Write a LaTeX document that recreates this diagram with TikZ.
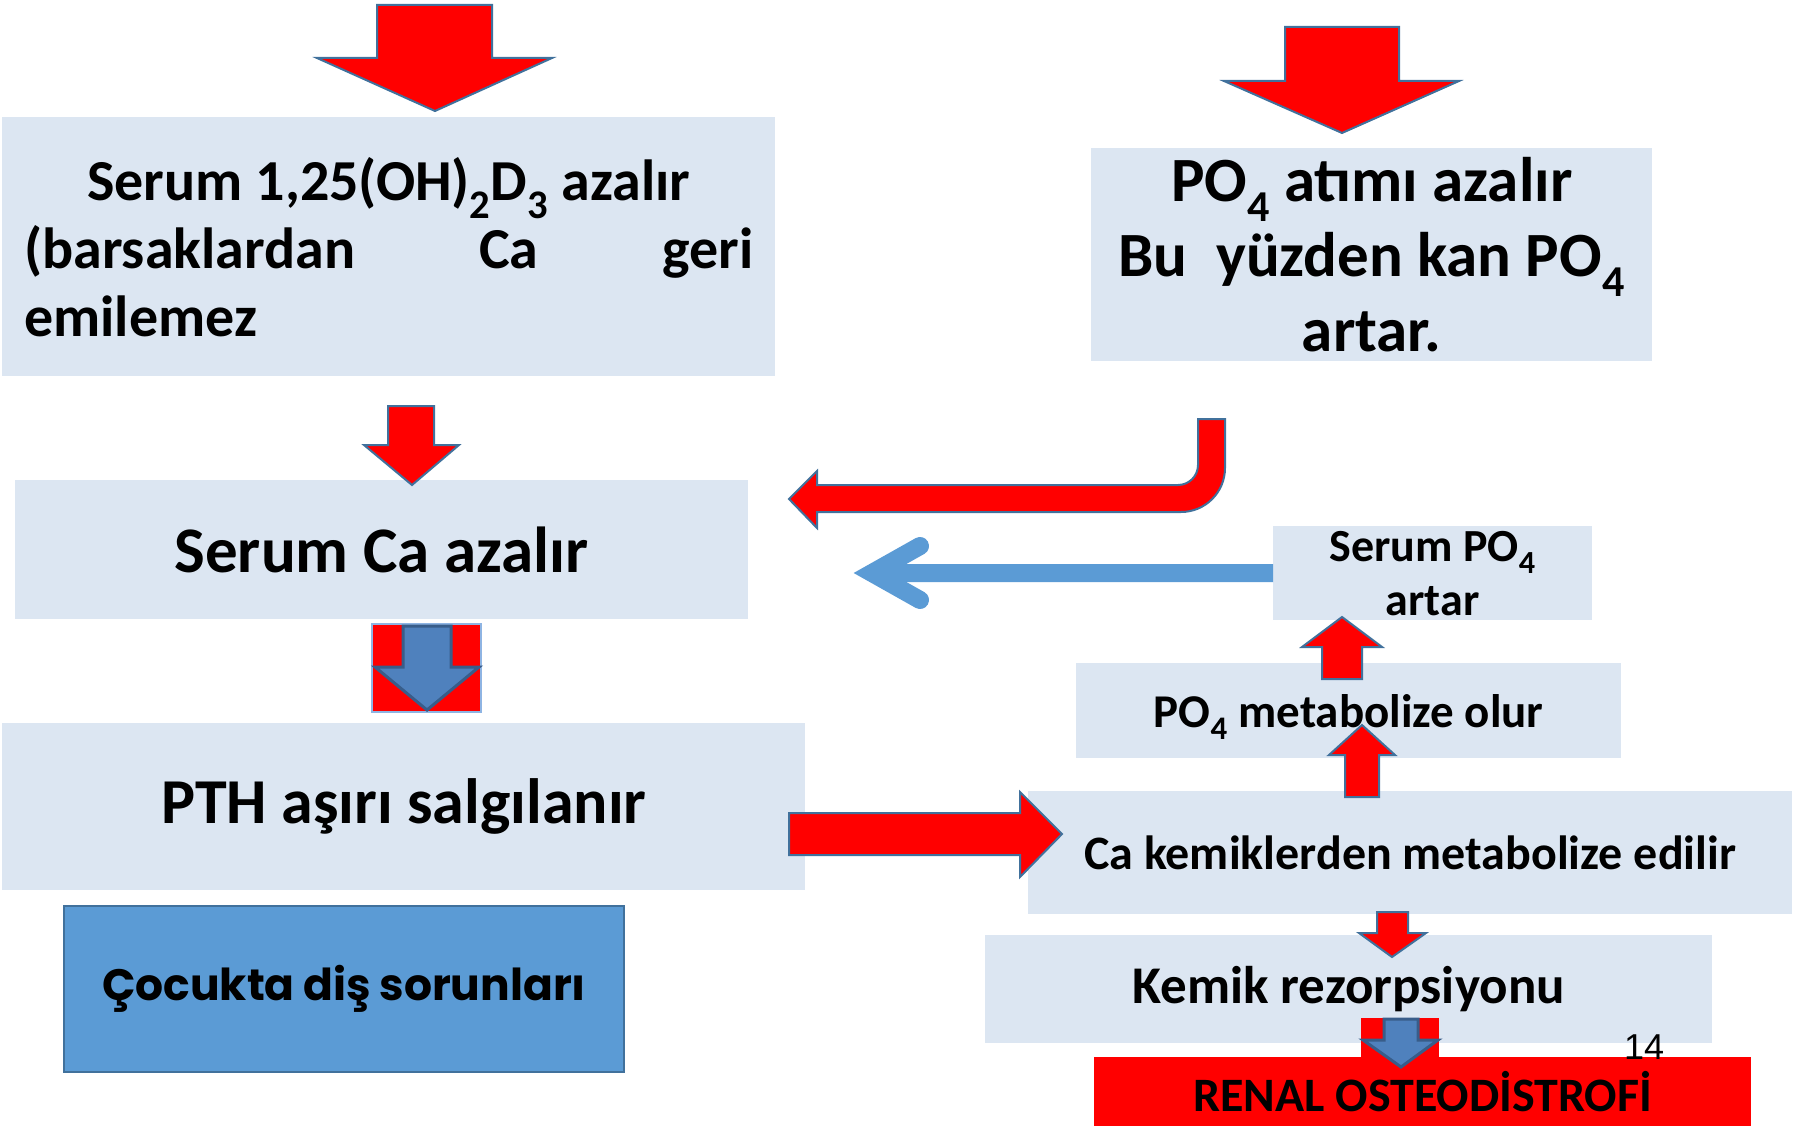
\documentclass[tikz,border=0pt]{standalone}
\usepackage{fontspec}
\setmainfont{Carlito}
\newfontfamily\comicfont{Poppins}
\newfontfamily\arialfont{Liberation Sans}
\usepackage{tikz}
\usetikzlibrary{arrows.meta}

\definecolor{paleblue}{RGB}{220,230,242}
\definecolor{edgeblue}{RGB}{65,113,156}
\definecolor{midblue}{RGB}{91,155,213}
\definecolor{steelblue}{RGB}{79,129,189}
\definecolor{darksteel}{RGB}{56,93,138}
\definecolor{sqedge}{RGB}{142,180,227}

\newcommand{\fsz}[2]{\fontsize{#1}{#2}\selectfont}

\begin{document}
\begin{tikzpicture}[x=1pt, y=-1pt,
  every node/.style={inner sep=0pt},
  box/.style={fill=paleblue, anchor=north west, align=center},
  redarr/.style={fill=red, draw=edgeblue, line width=2pt, line join=miter},
  bluedown/.style={fill=steelblue, draw=darksteel, line width=3pt, line join=miter},
  openarr/.style={draw=midblue, line width=18pt}]
\useasboundingbox (0,0) rectangle (1793,1126);
% Boxes, left column
\node[box, minimum width=773pt, minimum height=259pt, font=\bfseries\fsz{58}{68}] (vitd) at (2,117)
  {Serum 1,25(OH)\textsubscript{2}D\textsubscript{3} azalır\\
   \hbox to 729pt{(barsaklardan\hfil Ca\hfil geri}\\
   \hbox to 729pt{emilemez\hfil}};
\node[box, minimum width=733pt, minimum height=139pt, font=\bfseries\fsz{65}{78}] (serumca) at (15,480) {Serum Ca azalır};
\node[box, minimum width=803pt, minimum height=167pt, font=\bfseries\fsz{64}{76}] (pth) at (2,723) {PTH aşırı salgılanır};
\node[box, fill=midblue, draw=edgeblue, line width=2pt, minimum width=560pt, minimum height=166pt, font=\comicfont\bfseries\fsz{44}{52}] (dis) at (63,905)
  {\hbox to 484pt{Çocukta\hfil diş\hfil sorunları}};
% Boxes, right column
\node[box, minimum width=561pt, minimum height=213pt, font=\bfseries\fsz{63}{75}] (po4) at (1091,148)
  {PO\textsubscript{4} atımı azalır\\Bu\ \ yüzden kan PO\textsubscript{4}\\artar.};
\node[box, minimum width=319pt, minimum height=94pt, font=\bfseries\fsz{46}{54}] (spo4) at (1273,526) {Serum PO\textsubscript{4}\\artar};
\node[box, minimum width=545pt, minimum height=95pt, text height=33pt, text depth=0pt, font=\bfseries\fsz{47}{56}] (metab) at (1076,663) {PO\textsubscript{4} metabolize olur};
\node[box, minimum width=764pt, minimum height=123pt, font=\bfseries\fsz{48}{58}] (kemik) at (1028,791) {Ca kemiklerden metabolize edilir};
\node[box, minimum width=727pt, minimum height=108pt, font=\bfseries\fsz{53}{64}] (rez) at (985,935) {Kemik rezorpsiyonu};
\node[box, fill=red, minimum width=657pt, minimum height=69pt, font=\bfseries\fsz{48}{58}] (renal) at (1094,1057) {RENAL OSTEODİSTROFİ};
% Block arrows
\draw[redarr] (377,5) -- (492,5) -- (492,58) -- (552,58) -- (435,111) -- (317,58) -- (377,58) -- cycle; % into vitd
\draw[redarr] (1285,27) -- (1399,27) -- (1399,81) -- (1459,81) -- (1342,133) -- (1224,81) -- (1285,81) -- cycle; % into po4
\draw[redarr] (388,406) -- (434,406) -- (434,445) -- (459,445) -- (412,485) -- (364,445) -- (388,445) -- cycle; % vitd to serumca
\draw[fill=red, draw=sqedge, line width=1.5pt] (372,624) rectangle (481,712);
\draw[bluedown] (403,626) -- (451,626) -- (451,667) -- (479,667) -- (427,710) -- (375,667) -- (403,667) -- cycle; % serumca to pth
\draw[redarr] (1198,419) -- (1225,419) -- (1225,468) arc[start angle=0, end angle=90, radius=44]
  -- (817,512) -- (817,528) -- (789,499) -- (817,471) -- (817,485) -- (1178,485)
  arc[start angle=90, end angle=0, radius=20] -- cycle; % po4 back to serumca
\draw[redarr] (789,813) -- (1020,813) -- (1020,792) -- (1062,834) -- (1020,877) -- (1020,855) -- (789,855) -- cycle; % pth to kemik
\draw[redarr] (1345,797) -- (1379,797) -- (1379,755) -- (1395,755) -- (1362,725) -- (1329,755) -- (1345,755) -- cycle; % kemik up to metab
\draw[redarr] (1322,679) -- (1362,679) -- (1362,647) -- (1382,647) -- (1342,617) -- (1302,647) -- (1322,647) -- cycle; % metab up to spo4
\draw[redarr] (1377,912) -- (1408,912) -- (1408,933) -- (1426,933) -- (1392,957) -- (1359,933) -- (1377,933) -- cycle; % kemik to rez
\fill[red] (1361,1018) rectangle (1439,1058);
\draw[bluedown] (1384,1019) -- (1418,1019) -- (1418,1040) -- (1438,1040) -- (1401,1067) -- (1363,1040) -- (1384,1040) -- cycle; % rez to renal
% Open arrow spo4 to serumca
\coordinate (bluetip) at (872,573);
\draw[openarr] (spo4.west) -- (bluetip);
\draw[openarr, line cap=round, line join=miter] (bluetip) ++(48,-27) -- (bluetip) -- ++(48,27);
% Page number
\node[font=\arialfont\fsz{36}{43}] (pagenum) at (1644,1047) {14};
\end{tikzpicture}
\end{document}
